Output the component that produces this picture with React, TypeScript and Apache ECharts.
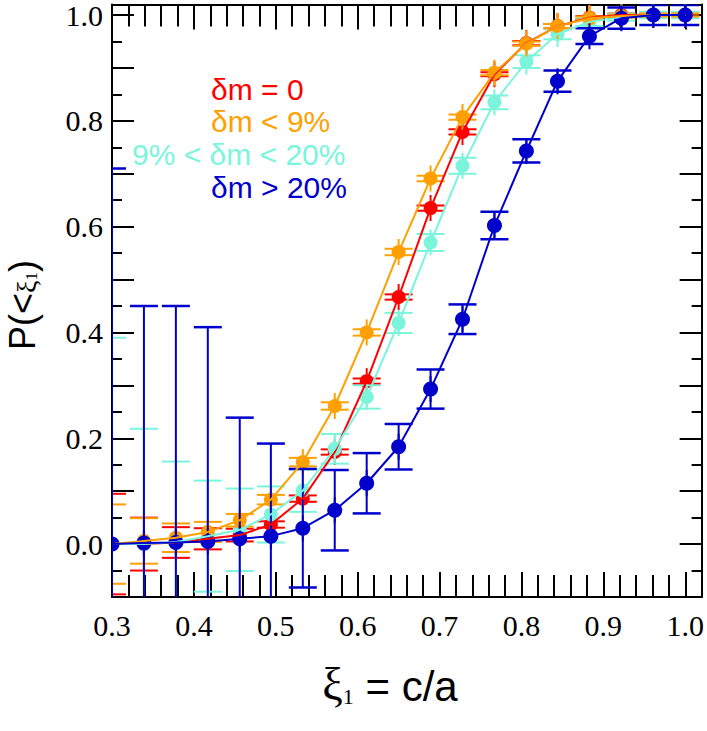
import React, { useEffect, useRef } from 'react';
import * as echarts from 'echarts';

// ---- data ----
const xs = [0.300, 0.339, 0.378, 0.417, 0.456, 0.494, 0.533, 0.572, 0.611, 0.650, 0.689, 0.728, 0.767, 0.806, 0.844, 0.883, 0.922, 0.961, 1.000];

const redY = [0.0, 0.0, 0.003, 0.01, 0.017, 0.037, 0.086, 0.174, 0.308, 0.467, 0.635, 0.779, 0.888, 0.947, 0.979, 0.995, 1.0, 1.0, 1.0];
const redErr = [0.095, 0.05, 0.029, 0.02, 0.012, 0.006, 0.006, 0.005, 0.005, 0.005, 0.005, 0.005, 0.004, 0.004, 0.004, 0.003, 0.003, 0.003, 0.003];

const orangeY = [0.0, 0.006, 0.012, 0.023, 0.045, 0.084, 0.155, 0.261, 0.40, 0.552, 0.691, 0.807, 0.891, 0.946, 0.979, 0.994, 0.998, 1.0, 1.0];
const orangeErr = [0.075, 0.043, 0.027, 0.019, 0.012, 0.009, 0.008, 0.007, 0.006, 0.006, 0.005, 0.005, 0.005, 0.004, 0.004, 0.003, 0.003, 0.003, 0.003];

const cyanY = [0.0, 0.0, 0.004, 0.015, 0.027, 0.056, 0.101, 0.18, 0.278, 0.418, 0.57, 0.715, 0.835, 0.912, 0.964, 0.987, 0.996, 1.0, 1.0];
const cyanErr = [0.39, 0.218, 0.152, 0.105, 0.078, 0.053, 0.04, 0.028, 0.022, 0.019, 0.016, 0.015, 0.013, 0.012, 0.01, 0.008, 0.007, 0.006, 0.006];

const blueY = [0.0, 0.002, 0.003, 0.005, 0.01, 0.015, 0.03, 0.064, 0.115, 0.184, 0.293, 0.425, 0.602, 0.743, 0.875, 0.96, 0.994, 1.0, 1.0];
const blueErr = [0.71, 0.448, 0.447, 0.405, 0.229, 0.175, 0.112, 0.076, 0.057, 0.043, 0.037, 0.028, 0.026, 0.022, 0.02, 0.015, 0.02, 0.019, 0.019];

const legendLabels = ['δm = 0', 'δm < 9%', '9% < δm < 20%', 'δm > 20%'];

const RED = '#ff0000';
const ORANGE = '#ffa000';
const CYAN = '#7af5dc';
const BLUE = '#0000cc';

const SERIF = "'Liberation Serif', 'DejaVu Serif', serif";
const SANS = "'Liberation Sans', Arial, Helvetica, sans-serif";

function lineSeries(ys: number[], color: string) {
  return {
    type: 'line',
    xAxisIndex: 0,
    yAxisIndex: 0,
    data: xs.map((x, i) => [x, ys[i]]),
    showSymbol: false,
    symbol: 'none',
    clip: true,
    lineStyle: { color, width: 2 },
    itemStyle: { color },
    silent: true,
  };
}

function errSeries(ys: number[], errs: number[], color: string, r: number, capW: number) {
  return {
    type: 'custom',
    xAxisIndex: 0,
    yAxisIndex: 0,
    data: xs.map((x, i) => [x, ys[i], errs[i]]),
    encode: { x: 0, y: 1 },
    clip: true,
    silent: true,
    renderItem: (params: any, api: any) => {
      const x = api.value(0);
      const y = api.value(1);
      const e = api.value(2);
      const c = api.coord([x, y]);
      const top = api.coord([x, y + e]);
      const bot = api.coord([x, y - e]);
      const cs = params.coordSys;
      const st = { stroke: color, lineWidth: 2, fill: null };
      const cap = { stroke: color, lineWidth: capW, fill: null };
      return {
        type: 'group',
        clipPath: { type: 'rect', shape: { x: cs.x, y: cs.y, width: cs.width, height: cs.height } },
        children: [
          { type: 'line', shape: { x1: c[0], y1: top[1], x2: c[0], y2: bot[1] }, style: st },
          { type: 'line', shape: { x1: c[0], y1: c[1] - 13, x2: c[0], y2: c[1] + 13 }, style: st },
          { type: 'line', shape: { x1: c[0] - 14, y1: top[1], x2: c[0] + 14, y2: top[1] }, style: cap },
          { type: 'line', shape: { x1: c[0] - 14, y1: bot[1], x2: c[0] + 14, y2: bot[1] }, style: cap },
          { type: 'circle', shape: { cx: c[0], cy: c[1], r }, style: { fill: color } },
        ],
      };
    },
  };
}

function makeAxisLine(show: boolean) {
  return { show, onZero: false, lineStyle: { color: '#000', width: 2 } };
}

function xAx(position: string, interval: number, len: number, labels: boolean, showLine: boolean) {
  return {
    type: 'value',
    position,
    min: 0.3,
    max: 1.02,
    interval,
    axisLine: makeAxisLine(showLine),
    axisTick: { show: true, inside: true, length: len, lineStyle: { color: '#000', width: 2 } },
    splitLine: { show: false },
    axisLabel: labels
      ? {
          show: true,
          margin: 13,
          fontFamily: SERIF,
          fontSize: 30,
          color: '#000',
          formatter: (v: number) => {
            const k = Math.round(v * 100);
            return k % 10 === 0 && k <= 100 ? (k / 100).toFixed(1) : '';
          },
        }
      : { show: false },
  };
}

function yAx(position: string, interval: number, len: number, labels: boolean, showLine: boolean) {
  return {
    type: 'value',
    position,
    min: -0.1,
    max: 1.02,
    interval,
    axisLine: makeAxisLine(showLine),
    axisTick: { show: true, inside: true, length: len, lineStyle: { color: '#000', width: 2 } },
    splitLine: { show: false },
    axisLabel: labels
      ? {
          show: true,
          margin: 9,
          fontFamily: SERIF,
          fontSize: 30,
          color: '#000',
          formatter: (v: number) => {
            const k = Math.round(v * 100);
            return k >= 0 && k <= 100 && k % 20 === 0 ? (k / 100).toFixed(1) : '';
          },
        }
      : { show: false },
  };
}

function textEl(text: string, x: number, y: number, color: string, align: string) {
  return {
    type: 'text',
    x,
    y,
    silent: true,
    style: {
      text,
      fill: color,
      fontFamily: SANS,
      fontSize: 30,
      lineHeight: 29,
      align,
      verticalAlign: 'middle',
      textAlign: align,
      textVerticalAlign: 'middle',
    },
  };
}

export default function App() {
  const ref = useRef<HTMLDivElement>(null);
  useEffect(() => {
    if (!ref.current) return;
    const chart = echarts.init(ref.current, null, { renderer: 'svg' });
    const option: any = {
      animation: false,
      backgroundColor: '#fff',
      grid: { left: 112, right: 2, top: 2, bottom: 134, containLabel: false },
      xAxis: [
        xAx('bottom', 0.02, 22, false, true),
        xAx('bottom', 0.1, 25, true, false),
        xAx('top', 0.02, 22, false, true),
        xAx('top', 0.1, 25, false, false),
      ],
      yAxis: [
        yAx('left', 0.05, 10, false, true),
        yAx('left', 0.1, 22, true, false),
        yAx('right', 0.05, 10, false, true),
        yAx('right', 0.1, 22, false, false),
      ],
      series: [
        lineSeries(redY, RED),
        errSeries(redY, redErr, RED, 7, 2),
        lineSeries(cyanY, CYAN),
        errSeries(cyanY, cyanErr, CYAN, 7, 2),
        lineSeries(orangeY, ORANGE),
        errSeries(orangeY, orangeErr, ORANGE, 7, 2),
        lineSeries(blueY, BLUE),
        errSeries(blueY, blueErr, BLUE, 7.5, 2.5),
      ],
      graphic: [
        textEl(legendLabels[0], 211, 89, RED, 'left'),
        textEl(legendLabels[1], 211, 121, ORANGE, 'left'),
        textEl(legendLabels[2], 132, 154, CYAN, 'left'),
        textEl(legendLabels[3], 211, 187, BLUE, 'left'),
        {
          type: 'text',
          x: 390,
          y: 684,
          silent: true,
          style: {
            text: '{a|ξ}{b|1}{c| = c/a}',
            align: 'center',
            verticalAlign: 'middle',
            textAlign: 'center',
            textVerticalAlign: 'middle',
            fill: '#000',
            rich: {
              a: { fontFamily: SERIF, fontSize: 46, fill: '#000', verticalAlign: 'bottom' },
              b: { fontFamily: SERIF, fontSize: 22, fill: '#000', verticalAlign: 'bottom' },
              c: { fontFamily: SANS, fontSize: 42, fill: '#000', verticalAlign: 'bottom' },
            },
          },
        },
        {
          type: 'text',
          x: 22,
          y: 305,
          rotation: Math.PI / 2,
          silent: true,
          style: {
            text: '{a|P(<}{b|ξ}{c|1}{a|)}',
            align: 'center',
            verticalAlign: 'middle',
            textAlign: 'center',
            textVerticalAlign: 'middle',
            fill: '#000',
            rich: {
              a: { fontFamily: SANS, fontSize: 36, fill: '#000', verticalAlign: 'bottom' },
              b: { fontFamily: SERIF, fontSize: 28, fill: '#000', verticalAlign: 'bottom' },
              c: { fontFamily: SERIF, fontSize: 17, fill: '#000', verticalAlign: 'bottom' },
            },
          },
        },
      ],
    };
    chart.setOption(option);
    return () => chart.dispose();
  }, []);
  return (
    <div
      ref={ref}
      style={{ position: 'absolute', left: 0, top: 0, width: 707, height: 731 }}
    />
  );
}
